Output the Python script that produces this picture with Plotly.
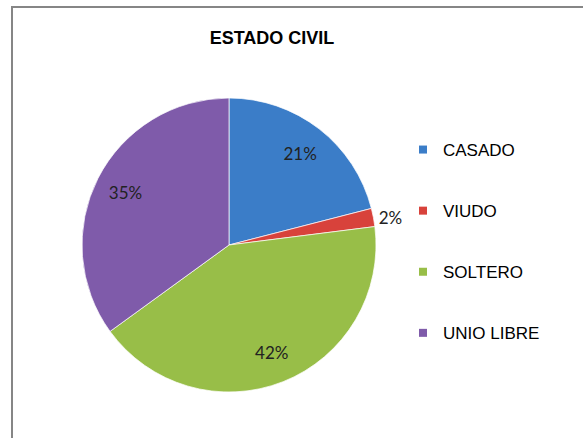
import plotly.graph_objects as go

categories = ["CASADO", "VIUDO", "SOLTERO", "UNIO LIBRE"]
percentages = [21, 2, 42, 35]
slice_colors = ["#3B7DC8", "#D8423B", "#98BE48", "#7F5BAA"]
chart_title = "ESTADO CIVIL"

W, H = 583, 438
cx, cy, r = 229, 245, 147
pie_domain = dict(x=[(cx - r) / W, (cx + r) / W], y=[1 - (cy + r) / H, 1 - (cy - r) / H])

fig = go.Figure()
# filled pie
fig.add_trace(go.Pie(
    labels=categories,
    values=percentages,
    sort=False,
    direction="clockwise",
    rotation=0,
    marker=dict(colors=slice_colors, line=dict(color="rgba(255,255,255,0.7)", width=1)),
    textinfo="none",
    showlegend=False,
    hoverinfo="label+percent",
    domain=pie_domain,
))
# transparent ring carrying the percentage labels further out, like the original
fig.add_trace(go.Pie(
    labels=categories,
    values=percentages,
    sort=False,
    direction="clockwise",
    rotation=0,
    hole=0.58,
    marker=dict(colors=["rgba(0,0,0,0)"] * len(categories), line=dict(width=0)),
    texttemplate="%{value}%",
    textposition=["inside", "outside", "inside", "inside"],
    insidetextorientation="horizontal",
    textfont=dict(family="Lato, Carlito, sans-serif", size=17, color="#222222"),
    showlegend=False,
    hoverinfo="skip",
    domain=pie_domain,
))

for name, col in zip(categories, slice_colors):
    fig.add_trace(go.Scatter(
        x=[None], y=[None], mode="markers", name=name, legendgroup=name,
        marker=dict(symbol="square", size=8, color=col),
        showlegend=True,
    ))

fig.update_layout(
    width=W, height=H,
    margin=dict(l=0, r=0, t=0, b=0),
    paper_bgcolor="white", plot_bgcolor="white",
    xaxis=dict(visible=False), yaxis=dict(visible=False),
    title=dict(text="<b>" + chart_title + "</b>", x=272 / W, xanchor="center",
               y=1 - 38 / H, yanchor="middle",
               font=dict(family="Arial, Liberation Sans, sans-serif", size=18, color="#000000")),
    legend=dict(x=403 / W, xanchor="left", y=1 - 132 / H, yanchor="top",
                font=dict(family="Arial, Liberation Sans, sans-serif", size=17, color="#000000"),
                tracegroupgap=36, bgcolor="rgba(0,0,0,0)"),
    shapes=[dict(type="rect", xref="paper", yref="paper",
                 x0=12 / W, x1=1.05, y0=-0.05, y1=1 - 7 / H,
                 line=dict(color="#868686", width=2), fillcolor="rgba(0,0,0,0)", layer="below")],
)

fig.write_html("out.html", config={"displayModeBar": False},
               post_script="document.body.style.margin='0';document.body.style.overflow='hidden';")
